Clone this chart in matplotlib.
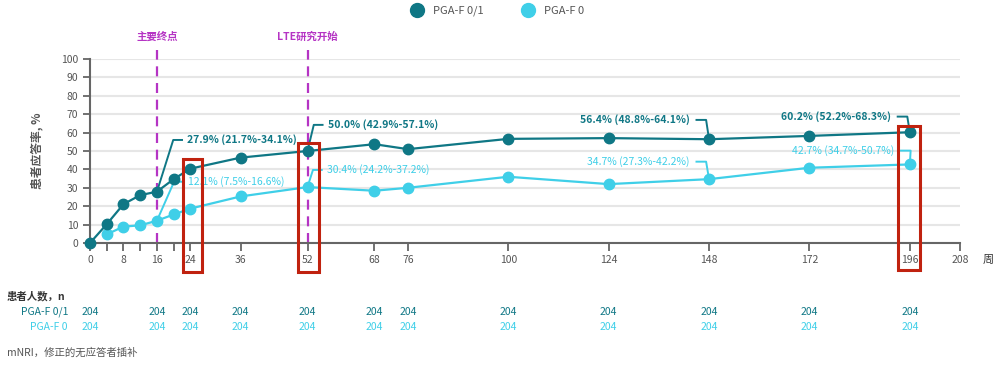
import matplotlib.pyplot as plt
from matplotlib.lines import Line2D
from matplotlib.patches import Rectangle

plt.rcParams['font.family'] = ['Noto Sans CJK SC', 'DejaVu Sans']

weeks = [0, 4, 8, 12, 16, 20, 24, 36, 52, 68, 76, 100, 124, 148, 172, 196]
pga01 = [0, 10.2, 21.1, 26.0, 27.9, 34.7, 40.4, 46.4, 50.0, 53.7, 51.0, 56.6, 57.0, 56.4, 58.2, 60.2]
light_weeks = [4, 8, 12, 16, 20, 24, 36, 52, 68, 76, 100, 124, 148, 172, 196]
pga0 = [4.7, 8.9, 9.6, 12.1, 15.5, 18.7, 25.3, 30.4, 28.4, 30.0, 36.0, 32.0, 34.7, 40.9, 42.7]

major_ticks = [0, 8, 16, 24, 36, 52, 68, 76, 100, 124, 148, 172, 196, 208]
minor_ticks = [4, 12, 20]
n_weeks = [0, 16, 24, 36, 52, 68, 76, 100, 124, 148, 172, 196]
n_pga01 = [204] * 12
n_pga0 = [204] * 12

# label text, series, week, label x, label y, side
labels = [
    ("27.9% (21.7%-34.1%)", "d", 16, 23.2, 56.0, "left"),
    ("12.1% (7.5%-16.6%)", "l", 16, 23.4, 33.3, "left"),
    ("50.0% (42.9%-57.1%)", "d", 52, 56.8, 64.2, "left"),
    ("30.4% (24.2%-37.2%)", "l", 52, 56.6, 39.7, "left"),
    ("56.4% (48.8%-64.1%)", "d", 148, 143.4, 66.9, "right"),
    ("34.7% (27.3%-42.2%)", "l", 148, 143.4, 44.2, "right"),
    ("60.2% (52.2%-68.3%)", "d", 196, 191.5, 68.7, "right"),
    ("42.7% (34.7%-50.7%)", "l", 196, 192.3, 50.2, "right"),
]
events = [(16, "主要终点"), (52, "LTE研究开始")]
boxes = [(22.2, 26.7, -15.8, 45.6), (49.7, 54.7, -15.8, 54.2), (193.2, 198.4, -14.5, 63.7)]

dark = '#0f7785'
light = '#3fcfe8'
purple = '#b534c4'
red = '#c0220f'
grey = '#555555'

fig = plt.figure(figsize=(10, 3.67), dpi=100)
ax = fig.add_axes([0.09, 0.3379, 0.87, 0.5013])
ax.set_xlim(0, 208)
ax.set_ylim(0, 100)

ax.set_yticks(range(0, 101, 10))
ax.yaxis.grid(True, color='#e6e6e6', linewidth=1.5)
ax.set_axisbelow(True)
for s in ['top', 'right']:
    ax.spines[s].set_visible(False)
for s in ['left', 'bottom']:
    ax.spines[s].set_color('#666666')
    ax.spines[s].set_linewidth(1.5)
ax.set_xticks(major_ticks)
ax.set_xticks(minor_ticks, minor=True)
ax.tick_params(axis='x', which='both', length=6, width=1.3, color='#666666', labelsize=7.5, labelcolor=grey, pad=3)
ax.tick_params(axis='y', length=5, width=1.3, color='#666666', labelsize=7.5, labelcolor=grey)
ax.set_ylabel("患者应答率, %", fontsize=8.5, fontweight='bold', color=grey, labelpad=13)

ax.plot(weeks, pga01, color=dark, linewidth=1.6, marker='o', markersize=7.5, clip_on=False, zorder=4)
ax.plot(light_weeks, pga0, color=light, linewidth=1.6, marker='o', markersize=7.5, clip_on=False, zorder=3)

for wk, name in events:
    ax.plot([wk, wk], [0, 105], color=purple, linewidth=1.6, linestyle=(0, (4.5, 3)), clip_on=False, zorder=2)
    ax.text(wk, 112, name, ha='center', va='center', color=purple, fontsize=7.5, fontweight='bold', clip_on=False)

for txt, ser, wk, tx, ty, side in labels:
    if ser == "d":
        py = pga01[weeks.index(wk)]
        col, wt = dark, 'bold'
    else:
        py = pga0[light_weeks.index(wk)]
        col, wt = light, 'normal'
    if side == "left":
        xs = [wk, tx - 3.3, tx - 1.2]
    else:
        xs = [wk, tx + 3.9, tx + 1.6]
    ax.plot(xs, [py, ty, ty], color=col, linewidth=1.4, clip_on=False, zorder=3)
    ax.text(tx, ty, txt, ha=side, va='center', color=col, fontsize=7.5, fontweight=wt, clip_on=False)

for x0, x1, y0, y1 in boxes:
    ax.add_patch(Rectangle((x0, y0), x1 - x0, y1 - y0, fill=False, edgecolor=red, linewidth=2.2, clip_on=False, zorder=6))

ax.text(214.7, -0.092, "周", transform=ax.get_xaxis_transform(), ha='center', va='center', fontsize=8, color='#333333')

# patient numbers table
fig.text(0.007, 1 - 296 / 367, "患者人数，n", fontsize=7.5, fontweight='bold', color='#333333', va='center')
fig.text(0.068, 1 - 312 / 367, "PGA-F 0/1", fontsize=7.5, color=dark, va='center', ha='right')
fig.text(0.068, 1 - 327 / 367, "PGA-F 0", fontsize=7.5, color=light, va='center', ha='right')
for wk, a, b in zip(n_weeks, n_pga01, n_pga0):
    ax.text(wk, -0.375, str(a), transform=ax.get_xaxis_transform(), ha='center', va='center', fontsize=7.5, color=dark)
    ax.text(wk, -0.457, str(b), transform=ax.get_xaxis_transform(), ha='center', va='center', fontsize=7.5, color=light)
fig.text(0.007, 1 - 353 / 367, "mNRI，修正的无应答者插补", fontsize=7.5, color=grey, va='center')

handles = [Line2D([], [], color=dark, marker='o', linestyle='none', markersize=10),
           Line2D([], [], color=light, marker='o', linestyle='none', markersize=10)]
fig.legend(handles, ["PGA-F 0/1", "PGA-F 0"], loc='center', bbox_to_anchor=(0.495, 1 - 11 / 367), ncol=2,
           frameon=False, fontsize=8, handletextpad=0.4, columnspacing=3, labelcolor=grey)

fig.savefig("out.png", dpi=100)
